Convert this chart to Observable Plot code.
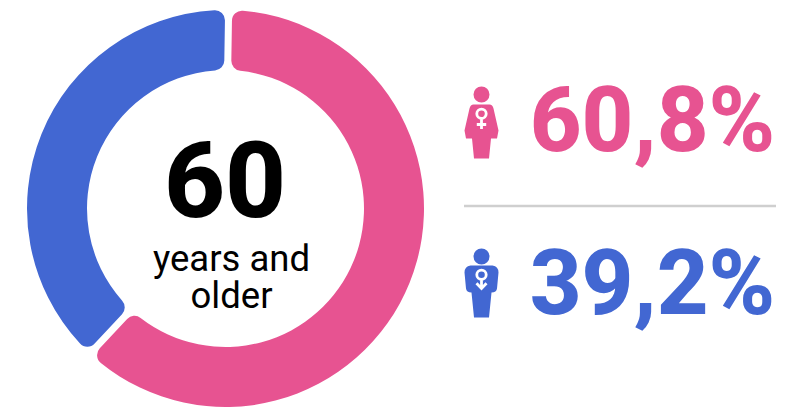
<!DOCTYPE html>
<html><head><meta charset="utf-8">
<script src="https://cdn.jsdelivr.net/npm/d3@7"></script>
<script src="https://cdn.jsdelivr.net/npm/@observablehq/plot@0.6"></script>
<style>html,body{margin:0;padding:0;background:#fff}svg{display:block}</style>
</head><body><div id="chart"></div>
<script>
const categories = ["Women", "Men"];
const arcShares = [61.7, 38.3];      // slice sizes
const shareLabels = ["60,8%", "39,2%"];
const colors = ["#E75391", "#4267D2"];
const centerNumber = "60";
const centerLines = ["years and", "older"];
const dividerAt = [205.5];

let running = 0;
const slices = categories.map((c, i) => {
  const s = {category: c, start: running, end: running + arcShares[i]};
  running = s.end;
  return s;
});

const startAngle = 0.9 * Math.PI / 180;
const cx = 225.5, cy = 208.5, outer = 198.5, inner = 138.5;

function ringRender(index, scales, values, dimensions) {
  const arc = d3.arc().innerRadius(inner).outerRadius(outer).cornerRadius(10).padAngle(0.029);
  const g = d3.create("svg:g").attr("transform", `translate(${cx},${cy})`);
  for (const i of index) {
    g.append("path")
      .attr("d", arc({startAngle: values.x1[i], endAngle: values.x2[i]}))
      .attr("fill", values.fill[i]);
  }
  return g.node();
}

const womanBody = {draw(c) {
  c.moveTo(-8, -16); c.lineTo(8, -16);
  c.quadraticCurveTo(11, -16, 12, -12);
  c.lineTo(17, 10); c.lineTo(15.5, 18); c.lineTo(9.5, 18);
  c.lineTo(7.5, 38); c.lineTo(-7.5, 38); c.lineTo(-9.5, 18);
  c.lineTo(-15.5, 18); c.lineTo(-17, 10); c.lineTo(-12, -12);
  c.quadraticCurveTo(-11, -16, -8, -16); c.closePath();
  c.moveTo(8, -26); c.arc(0, -26, 8, 0, 2 * Math.PI); c.closePath();
}};
const womanGlyph = {draw(c) {
  c.moveTo(4.7, -6.7); c.arc(0, -6.7, 4.7, 0, 2 * Math.PI);
  c.moveTo(0, -2); c.lineTo(0, 8.5);
  c.moveTo(-4.7, 4); c.lineTo(4.7, 4);
}};
const manBody = {draw(c) {
  c.moveTo(-11, -20); c.lineTo(11, -20);
  c.quadraticCurveTo(17, -19, 17, -13);
  c.lineTo(15.5, 3); c.quadraticCurveTo(15, 7, 10, 7);
  c.lineTo(7.5, 32); c.lineTo(-7.5, 32); c.lineTo(-10, 7);
  c.quadraticCurveTo(-15, 7, -15.5, 3); c.lineTo(-17, -13);
  c.quadraticCurveTo(-17, -19, -11, -20); c.closePath();
  c.moveTo(8, -29); c.arc(0, -29, 8, 0, 2 * Math.PI); c.closePath();
}};
const manGlyph = {draw(c) {
  c.moveTo(4.7, -10.7); c.arc(0, -10.7, 4.7, 0, 2 * Math.PI);
  c.moveTo(0, -6); c.lineTo(0, 3);
  c.moveTo(-5, -2.3); c.lineTo(0, 3); c.lineTo(5, -2.3);
}};

const label = (text, dx, dy, o) => Plot.text([text], {
  text: d => d, frameAnchor: "top-left", dx, dy, lineAnchor: "middle",
  fontFamily: "Roboto", ...o
});

const chart = Plot.plot({
  width: 785, height: 409, margin: 0,
  style: {background: "#fff"},
  x: {domain: [0, 100], range: [startAngle, startAngle + 2 * Math.PI], axis: null},
  y: {domain: [0, 409], range: [0, 409], axis: null},
  color: {domain: categories, range: colors},
  marks: [
    Plot.barX(slices, {x1: "start", x2: "end", fill: "category", render: ringRender}),
    label(centerNumber, 224.5, 183, {fontSize: 106, fontWeight: 800, fill: "#000", textAnchor: "middle"}),
    label(centerLines[0], 231, 259, {fontSize: 36.5, fill: "#000", textAnchor: "middle"}),
    label(centerLines[1], 231, 296, {fontSize: 36.5, fill: "#000", textAnchor: "middle"}),
    label(shareLabels[0], 652, 122, {fontSize: 90, fontWeight: 800, fill: colors[0], textAnchor: "middle"}),
    label(shareLabels[1], 652, 285, {fontSize: 90, fontWeight: 800, fill: colors[1], textAnchor: "middle"}),
    Plot.ruleY(dividerAt, {stroke: "#CFCFCF", strokeWidth: 2.5, insetLeft: 464, insetRight: 9}),
    Plot.dot([0], {frameAnchor: "top-left", dx: 481, dy: 120, symbol: womanBody, fill: colors[0], stroke: "none"}),
    Plot.dot([0], {frameAnchor: "top-left", dx: 481, dy: 120, symbol: womanGlyph, fill: "none", stroke: "#fff", strokeWidth: 2.8}),
    Plot.dot([0], {frameAnchor: "top-left", dx: 481, dy: 285, symbol: manBody, fill: colors[1], stroke: "none"}),
    Plot.dot([0], {frameAnchor: "top-left", dx: 481, dy: 285, symbol: manGlyph, fill: "none", stroke: "#fff", strokeWidth: 2.8})
  ]
});
document.getElementById("chart").append(chart);
</script>
</body></html>
